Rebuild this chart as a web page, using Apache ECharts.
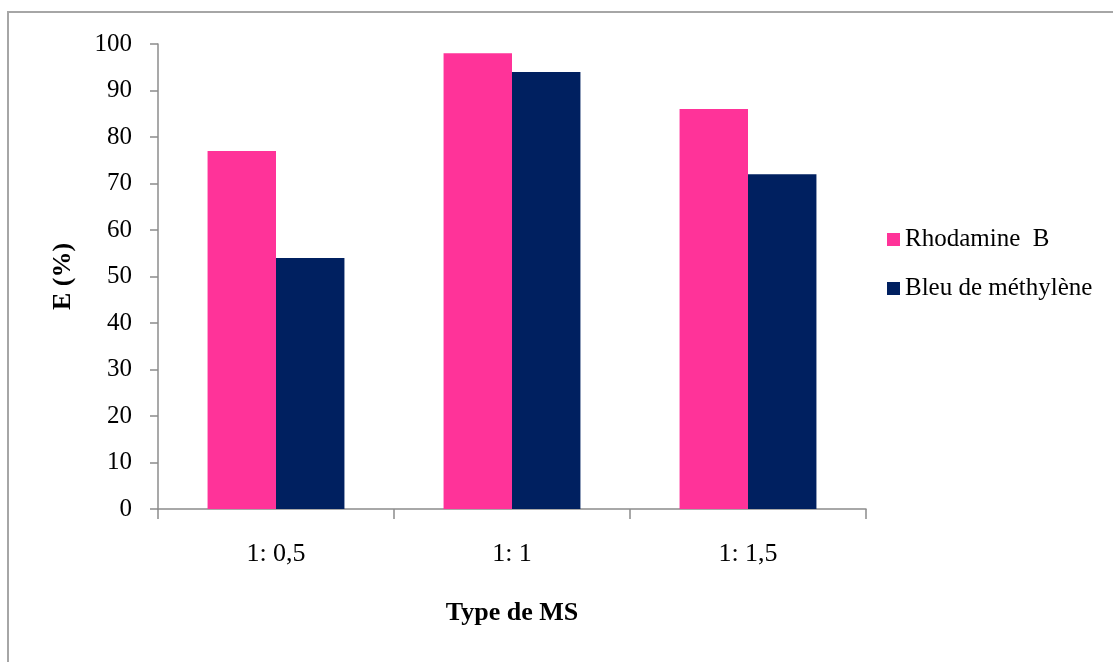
<!DOCTYPE html>
<html>
<head>
<meta charset="utf-8">
<script src="https://cdn.jsdelivr.net/npm/echarts@6/dist/echarts.min.js"></script>
<style>
  html, body { margin: 0; padding: 0; background: #ffffff; }
  #chart { width: 1113px; height: 662px; }
</style>
</head>
<body>
<div id="chart"></div>
<script>
// Extraction efficiency E (%) per MS type, for two dyes
const categories = ['1: 0,5', '1: 1', '1: 1,5'];
const rhodamineB = [77, 98, 86];
const bleuMethylene = [54, 94, 72];
const yTicks = { min: 0, max: 100, interval: 10 };

const FONT = '"Liberation Serif", "DejaVu Serif", serif';
const AXIS_GREY = '#8c8c8c';

const chart = echarts.init(document.getElementById('chart'), null, { renderer: 'canvas' });

chart.setOption({
  backgroundColor: '#ffffff',
  animation: false,
  graphic: [{
    type: 'rect',
    shape: { x: 8, y: 12, width: 1200, height: 700 },
    style: { fill: 'none', stroke: '#a6a6a6', lineWidth: 2 },
    silent: true
  }],
  grid: { left: 158, right: 247, top: 44, bottom: 153, containLabel: false },
  legend: {
    orient: 'vertical',
    left: 882,
    top: 222,
    itemWidth: 13,
    itemHeight: 13,
    itemGap: 24,
    icon: 'rect',
    textStyle: { fontFamily: FONT, fontSize: 25, color: '#000000', padding: [0, 0, 0, 0] },
    data: ['Rhodamine  B', 'Bleu de méthylène']
  },
  xAxis: {
    type: 'category',
    data: categories,
    name: 'Type de MS',
    nameLocation: 'middle',
    nameGap: 91,
    nameTextStyle: { fontFamily: FONT, fontSize: 26, fontWeight: 'bold', color: '#000000' },
    axisLine: { lineStyle: { color: AXIS_GREY, width: 1.5 } },
    axisTick: { show: true, length: 10, lineStyle: { color: AXIS_GREY, width: 1.5 } },
    axisLabel: { fontFamily: FONT, fontSize: 26, color: '#000000', margin: 32 }
  },
  yAxis: {
    type: 'value',
    min: yTicks.min,
    max: yTicks.max,
    interval: yTicks.interval,
    name: 'E (%)',
    nameLocation: 'middle',
    nameGap: 82,
    nameRotate: 90,
    nameTextStyle: { fontFamily: FONT, fontSize: 26, fontWeight: 'bold', color: '#000000' },
    splitLine: { show: false },
    axisLine: { show: true, lineStyle: { color: AXIS_GREY, width: 1.5 } },
    axisTick: { show: true, length: 8, lineStyle: { color: AXIS_GREY, width: 1.5 } },
    axisLabel: { fontFamily: FONT, fontSize: 25, color: '#000000', margin: 26 }
  },
  series: [
    {
      name: 'Rhodamine  B',
      type: 'bar',
      data: rhodamineB,
      barGap: '0%',
      barCategoryGap: '42%',
      itemStyle: { color: '#ff3399' }
    },
    {
      name: 'Bleu de méthylène',
      type: 'bar',
      data: bleuMethylene,
      barGap: '0%',
      barCategoryGap: '42%',
      itemStyle: { color: '#002060' }
    }
  ]
});
</script>
</body>
</html>
